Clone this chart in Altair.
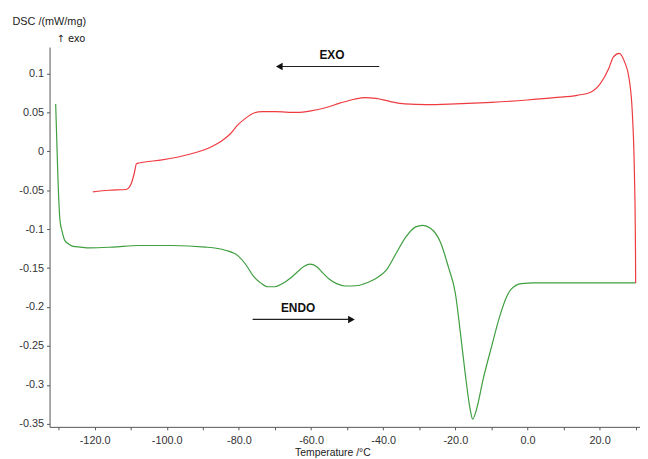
import altair as alt
import pandas as pd

# Heating curve (green, ENDO direction, left to right)
green_T = [-130.8, -130.5, -130.2, -129.6, -129.0, -128.2, -127.2, -126.0, -124.0, -121.4,
           -115.0, -107.7, -98.6, -89.3, -83.8, -80.3, -78.0, -76.2, -74.0, -72.0,
           -70.0, -68.0, -65.5, -63.8, -62.0, -60.3, -58.5, -57.0, -55.0, -52.9,
           -50.5, -48.8, -46.5, -45.2, -41.9, -39.2, -36.4, -33.7, -31.0, -29.1,
           -26.8, -24.1, -21.9, -20.0, -18.6, -17.3, -15.9, -15.2, -14.1, -12.3,
           -9.9, -7.7, -5.8, -4.5, -1.7, 1.9, 7.4, 15.0, 22.0, 30.0]
green_y = [0.061, 0.015, -0.030, -0.089, -0.103, -0.115, -0.119, -0.122, -0.123, -0.124,
           -0.123, -0.121, -0.121, -0.123, -0.127, -0.134, -0.146, -0.159, -0.169, -0.174,
           -0.174, -0.170, -0.162, -0.155, -0.148, -0.145, -0.148, -0.155, -0.164, -0.170,
           -0.173, -0.173, -0.172, -0.170, -0.163, -0.153, -0.131, -0.110, -0.097, -0.095,
           -0.099, -0.117, -0.149, -0.182, -0.233, -0.284, -0.331, -0.344, -0.331, -0.293,
           -0.250, -0.212, -0.187, -0.177, -0.170, -0.169, -0.169, -0.169, -0.169, -0.169]

# Cooling curve (red, EXO direction, right to left)
red_T = [30.0, 29.95, 29.9, 29.6, 29.1, 28.2, 27.0, 25.4, 23.8, 22.5,
         20.2, 17.5, 13.8, 7.4, 0.0, -10.0, -20.0, -28.0, -34.0, -38.0,
         -42.0, -45.0, -48.0, -52.0, -56.0, -60.0, -64.0, -70.0, -73.5, -76.0,
         -78.0, -80.3, -82.5, -84.9, -87.6, -94.0, -101.3, -107.7, -108.4, -109.0,
         -109.9, -111.3, -116.0, -120.5]
red_y = [-0.169, -0.130, -0.102, -0.017, 0.047, 0.093, 0.114, 0.126, 0.121, 0.106,
         0.087, 0.076, 0.072, 0.069, 0.066, 0.063, 0.061, 0.060, 0.061, 0.064,
         0.068, 0.069, 0.067, 0.062, 0.056, 0.052, 0.050, 0.051, 0.051, 0.049,
         0.043, 0.034, 0.022, 0.013, 0.006, -0.004, -0.011, -0.015, -0.016, -0.028,
         -0.042, -0.049, -0.050, -0.052]

# Annotation arrows
arrow_label = ["EXO", "ENDO"]
arrow_x_start = [-41.1, -76.2]
arrow_x_end = [-68.8, -48.8]
arrow_y = [0.109, -0.216]
label_x = [-54.2, -63.6]
label_y = [0.124, -0.201]
head_shape = ["triangle-left", "triangle-right"]

x_major = [-120, -100, -80, -60, -40, -20, 0, 20]
x_minor = [-130, -110, -90, -70, -50, -30, -10, 10, 30]
y_ticks = [round(-0.35 + 0.025 * i, 3) for i in range(20)]

curves = pd.DataFrame({
    "T": green_T + red_T,
    "DSC": green_y + red_y,
    "run": ["heat"] * len(green_T) + ["cool"] * len(red_T),
    "order": list(range(len(green_T))) + list(range(len(red_T))),
})
arrows = pd.DataFrame({
    "label": arrow_label, "x0": arrow_x_start, "x1": arrow_x_end, "y": arrow_y,
    "lx": label_x, "ly": label_y, "shape": head_shape,
})

FONT = "Liberation Sans"
XDOM = [-132.5, 31.2]
xs = alt.Scale(domain=XDOM, nice=False, zero=False)
ys = alt.Scale(domain=[-0.354, 0.134], nice=False, zero=False)

x_axis = alt.Axis(
    values=x_major, grid=False, tickSize=3, labelPadding=5, labelOverlap=False,
    labelExpr="toString(datum.value) + '.0'",
    title="Temperature /°C", titleFontWeight="normal", titleFontSize=10.5,
    titleX=286, titleY=26, titleBaseline="middle", titleColor="#222", orient="bottom",
)
x_minor_axis = alt.Axis(
    values=x_minor, grid=False, tickSize=3, labels=False, title=None,
    orient="bottom", domain=False,
)
y_axis = alt.Axis(
    values=y_ticks, grid=False, tickSize=3, labelPadding=3, labelOverlap=False,
    labelExpr="abs(datum.value*20 - round(datum.value*20)) < 1e-6 ? toString(round(datum.value*100)/100) : ''",
    title="DSC /(mW/mg)", titleAngle=0, titleAlign="left", titleBaseline="top",
    titleX=-38, titleY=-32, titleFontWeight="normal", titleFontSize=11, titleColor="#222",
)

lines = alt.Chart(curves).mark_line(strokeWidth=1.2, interpolate="monotone").encode(
    x=alt.X("T:Q", scale=xs, axis=x_axis),
    y=alt.Y("DSC:Q", scale=ys, axis=y_axis),
    color=alt.Color("run:N", scale=alt.Scale(domain=["heat", "cool"], range=["#3f9e3f", "#ee3b40"]), legend=None),
    order="order:Q",
    detail="run:N",
)

minor = alt.Chart(curves).mark_line(opacity=0).encode(
    x=alt.X("T:Q", scale=alt.Scale(domain=XDOM, nice=False, zero=False), axis=x_minor_axis),
    y=alt.Y("DSC:Q", scale=ys),
    detail="run:N",
)

base = alt.Chart(arrows)
shafts = base.mark_rule(color="#222", strokeWidth=1.2).encode(
    x=alt.X("x0:Q", scale=xs), x2="x1:Q", y=alt.Y("y:Q", scale=ys)
)
heads = base.mark_point(filled=True, color="#111", size=60, opacity=1).encode(
    x=alt.X("x1:Q", scale=xs), y=alt.Y("y:Q", scale=ys),
    shape=alt.Shape("shape:N", scale=None),
)
labels = base.mark_text(font=FONT, fontSize=12, fontWeight="bold", color="#111").encode(
    x=alt.X("lx:Q", scale=xs), y=alt.Y("ly:Q", scale=ys), text="label:N"
)
exo_note = alt.Chart(pd.DataFrame({"t": ["↑ exo"]})).mark_text(
    font="DejaVu Sans", fontSize=10, color="#222", align="left", baseline="middle"
).encode(x=alt.value(7), y=alt.value(-8), text="t:N")

main = alt.layer(lines, shafts, heads, labels, exo_note)
chart = alt.layer(main, minor).resolve_scale(x="independent").resolve_axis(x="independent").properties(
    width=597, height=384,
    autosize=alt.AutoSizeParams(type="none"),
    padding={"left": 42, "top": 37, "right": 0, "bottom": 30},
).configure_view(stroke=None).configure_axis(
    labelFont=FONT, titleFont=FONT, labelFontSize=11, labelColor="#333",
    domainColor="#555", tickColor="#555",
)

chart.save("out.html", embed_options={"renderer": "svg", "actions": False})
